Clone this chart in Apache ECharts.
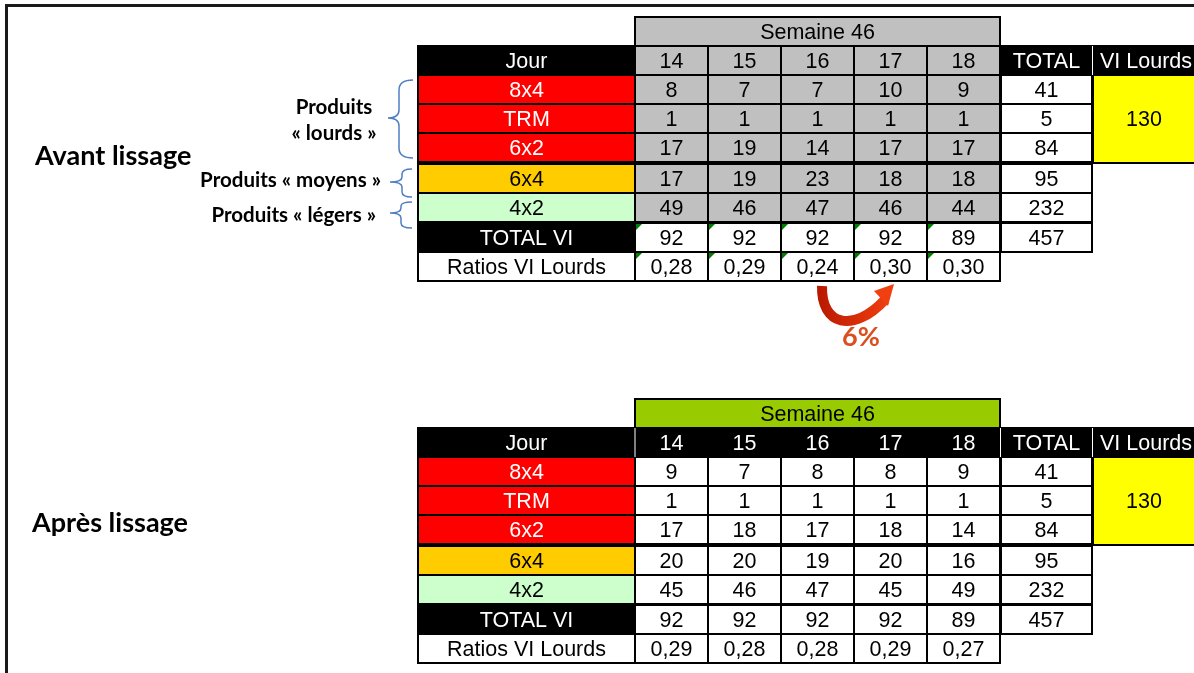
<!DOCTYPE html>
<html><head><meta charset="utf-8">
<script src="https://cdn.jsdelivr.net/npm/echarts@6/dist/echarts.min.js"></script>
<style>html,body{margin:0;padding:0;background:#fff}#c{width:1194px;height:673px}</style>
</head><body><div id="c"></div>
<script>
// ---------- DATA ----------
const rowLabels = ['8x4', 'TRM', '6x2', '6x4', '4x2', 'TOTAL VI', 'Ratios VI Lourds'];
const dayLabels = ['14', '15', '16', '17', '18'];
const weekTitle = 'Semaine 46';
const headJour = 'Jour', headTotal = 'TOTAL', headLourds = 'VI Lourds';
const avantDays = [[8,7,7,10,9],[1,1,1,1,1],[17,19,14,17,17],[17,19,23,18,18],[49,46,47,46,44],[92,92,92,92,89]];
const avantRatios = [0.28, 0.29, 0.24, 0.30, 0.30];
const avantTotals = [41, 5, 84, 95, 232, 457];
const avantLourds = 130;
const apresDays = [[9,7,8,8,9],[1,1,1,1,1],[17,18,17,18,14],[20,20,19,20,16],[45,46,47,45,49],[92,92,92,92,89]];
const apresRatios = [0.29, 0.28, 0.28, 0.29, 0.27];
const apresTotals = [41, 5, 84, 95, 232, 457];
const apresLourds = 130;
const sectionTitles = ['Avant lissage', 'Après lissage'];
const groupLabels = ['Produits', '« lourds »', 'Produits « moyens »', 'Produits « légers »'];
const deltaLabel = '6%';

// ---------- LAYOUT / STYLE ----------
const W = 1194, H = 673;
const COL = [[419,634],[636,707],[709,780],[782,853],[855,926],[928,999],[1002,1091],[1094,1194]];
const ROW = [[18,45],[47,74],[76,103],[105,132],[134,161],[165,192],[194,221],[224,251],[253,280]];
const TABLE_OFFSET = [0, 382];
const FONT = '21.5px "Liberation Sans", Arial, sans-serif';
const BOLD = 'bold 20.5px Lato, "Open Sans", sans-serif';
const TITLE = 'bold 27px Lato, "Open Sans", sans-serif';
const LABEL_FILL = ['#FF0000','#FF0000','#FF0000','#FFCC00','#CCFFCC','#000000','#FFFFFF'];
const LABEL_TEXT = ['#FFFFFF','#FFFFFF','#FFFFFF','#000000','#000000','#FFFFFF','#000000'];
const WEEK_FILL = ['#C0C0C0', '#99CC00'];
const BRACE = '#4F7FC0';
const fmtRatio = v => v.toFixed(2).replace('.', ',');

const items = [];
function rect(x0, y0, x1, y1, fill) { items.push({k:'rect', x0, y0, x1, y1, fill}); }
function txt(x0, y0, x1, y1, text, color, font, align, dy) { items.push({k:'text', x0, y0, x1, y1, text: String(text), color, font: font || FONT, align: align || 'center', dy: dy == null ? 2 : dy}); }
function tri(x0, y0) { items.push({k:'tri', x0, y0, x1: x0 + 6, y1: y0 + 6}); }
function path(x0, y0, x1, y1, d, style) { items.push({k:'path', x0, y0, x1, y1, d, style}); }

// frame
rect(5, 4, W, 7, '#1a1a1a');
rect(5, 4, 8, H, '#1a1a1a');

const tables = [
  {days: avantDays, ratios: avantRatios, totals: avantTotals, lourds: avantLourds},
  {days: apresDays, ratios: apresRatios, totals: apresTotals, lourds: apresLourds}
];
tables.forEach((tb, t) => {
  const o = TABLE_OFFSET[t];
  const R = ROW.map(r => [r[0] + o, r[1] + o]);
  rect(634, 16 + o, 1001, 47 + o, '#000');
  rect(417, 45 + o, 1001, 282 + o, '#000');
  rect(1000, 45 + o, 1093, 253 + o, '#000');
  rect(1092, 45 + o, W, 164 + o, '#000');
  rect(COL[1][0], R[0][0], COL[5][1], R[0][1], WEEK_FILL[t]);
  txt(COL[1][0], R[0][0], COL[5][1], R[0][1], weekTitle, '#000');
  txt(COL[0][0], R[1][0], COL[0][1], R[1][1], headJour, '#fff');
  dayLabels.forEach((d, j) => {
    const c = COL[j + 1];
    if (t === 0) rect(c[0], R[1][0], c[1], R[1][1], '#C0C0C0');
    txt(c[0], R[1][0], c[1], R[1][1], d, t === 0 ? '#000' : '#fff');
  });
  txt(COL[6][0], R[1][0], COL[6][1], R[1][1], headTotal, '#fff');
  txt(COL[7][0] + 4, R[1][0], COL[7][1], R[1][1], headLourds, '#fff');
  rect(1092, 46 + o, 1093, 75 + o, '#fff');
  if (t === 1) {
    rect(1000, 46 + o, 1001, 75 + o, '#fff');
    rect(634.5, 46 + o, 635.5, 75 + o, '#fff');
  }
  rowLabels.forEach((lab, r) => {
    const y = R[r + 2];
    rect(COL[0][0], y[0], COL[0][1], y[1], LABEL_FILL[r]);
    txt(COL[0][0], y[0], COL[0][1], y[1], lab, LABEL_TEXT[r]);
    for (let j = 0; j < 5; j++) {
      const c = COL[j + 1];
      const fill = (t === 0 && r < 5) ? '#C0C0C0' : '#FFFFFF';
      rect(c[0], y[0], c[1], y[1], fill);
      const v = r < 6 ? tb.days[r][j] : fmtRatio(tb.ratios[j]);
      txt(c[0], y[0], c[1], y[1], v, '#000');
      if (t === 0 && r >= 5) tri(c[0], y[0]);
    }
    if (r < 6) {
      rect(COL[6][0], y[0], COL[6][1], y[1], '#FFFFFF');
      txt(COL[6][0], y[0], COL[6][1], y[1], tb.totals[r], '#000');
    }
  });
  rect(COL[7][0], R[2][0], COL[7][1], R[4][1] + 1, '#FFFF00');
  txt(COL[7][0], R[2][0], COL[7][1], R[4][1], tb.lourds, '#000');
});

// annotations
txt(35, 142, 35, 170, sectionTitles[0], '#000', TITLE, 'left', 0);
txt(32, 509, 32, 537, sectionTitles[1], '#000', TITLE, 'left', 0);
txt(334, 94, 334, 120, groupLabels[0], '#000', BOLD, 'center', 0);
txt(334, 120, 334, 146, groupLabels[1], '#000', BOLD, 'center', 0);
txt(381, 167, 381, 193, groupLabels[2], '#000', BOLD, 'right', 0);
txt(376, 202, 376, 228, groupLabels[3], '#000', BOLD, 'right', 0);
const braceStyle = {fill: null, stroke: BRACE, lineWidth: 1.5};
path(388, 80, 413, 158, 'M413,80 Q399,80 399,90 L399,110 Q399,118 388,118 Q399,118 399,126 L399,148 Q399,158 413,158', braceStyle);
path(390, 169, 412, 197, 'M412,169 Q402,169 402,174 L402,177 Q402,182 390,182 Q402,182 402,187 L402,192 Q402,197 412,197', braceStyle);
path(390, 202, 412, 228, 'M412,202 Q401,202 401,206 L401,208 Q401,213 390,213 Q401,213 401,218 L401,223 Q401,228 412,228', braceStyle);
path(822, 286, 885, 321, 'M827,286 C826,320 854,328 882,298', {fill: null, lineWidth: 10,
  stroke: new echarts.graphic.LinearGradient(0, 0, 1, 0, [{offset: 0, color: '#B81800'}, {offset: 1, color: '#F04010'}])});
path(874, 284, 894, 306, 'M894,284 L874,291 L888,306 Z', {fill: '#F04010'});
txt(861, 324, 861, 350, deltaLabel, '#D9501E', 'bold 27px Lato, "Open Sans", sans-serif', 'center', 0);

const option = {
  animation: false,
  grid: {left: 0, right: 0, top: 0, bottom: 0},
  xAxis: {type: 'value', min: 0, max: W, show: false},
  yAxis: {type: 'value', min: 0, max: H, inverse: true, show: false},
  series: [{
    type: 'custom',
    coordinateSystem: 'cartesian2d',
    silent: true,
    clip: false,
    progressive: 0,
    data: items.map((d, i) => [(d.x0 + d.x1) / 2, (d.y0 + d.y1) / 2, i]),
    encode: {x: 0, y: 1},
    renderItem: function (params, api) {
      const d = items[api.value(2)];
      const p0 = api.coord([d.x0, d.y0]);
      const p1 = api.coord([d.x1, d.y1]);
      if (d.k === 'rect') {
        return {type: 'rect', shape: {x: p0[0], y: p0[1], width: p1[0] - p0[0], height: p1[1] - p0[1]}, style: {fill: d.fill}};
      }
      if (d.k === 'tri') {
        return {type: 'polygon', shape: {points: [[p0[0], p0[1]], [p1[0], p0[1]], [p0[0], p1[1]]]}, style: {fill: '#008000'}};
      }
      if (d.k === 'path') {
        return {type: 'path', shape: {pathData: d.d, x: p0[0], y: p0[1], width: p1[0] - p0[0], height: p1[1] - p0[1], layout: 'cover'}, style: d.style};
      }
      const x = d.align === 'left' ? p0[0] : d.align === 'right' ? p1[0] : (p0[0] + p1[0]) / 2;
      return {type: 'text', x: x, y: (p0[1] + p1[1]) / 2 + d.dy,
        style: {text: d.text, fill: d.color, font: d.font, align: d.align, verticalAlign: 'middle'}};
    }
  }]
};
const chart = echarts.init(document.getElementById('c'), null, {renderer: 'canvas'});
chart.setOption(option);
</script>
</body></html>
